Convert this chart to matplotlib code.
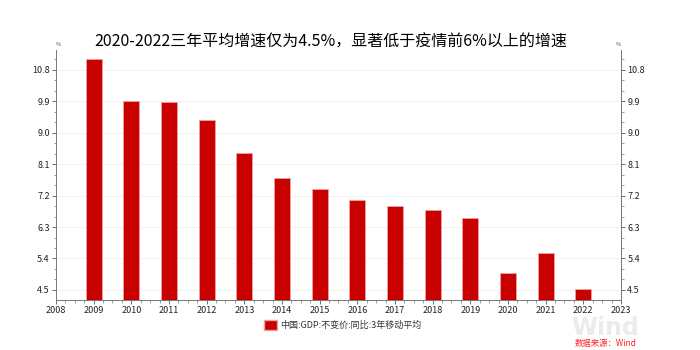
import matplotlib.pyplot as plt
from matplotlib.ticker import MultipleLocator, AutoMinorLocator
from matplotlib.patches import Patch

plt.rcParams['font.family'] = ['Noto Sans CJK SC', 'DejaVu Sans']

# GDP constant-price YoY growth, 3-year moving average (%)
years = [2009, 2010, 2011, 2012, 2013, 2014, 2015, 2016, 2017, 2018,
         2019, 2020, 2021, 2022]
growth = [11.10, 9.90, 9.87, 9.37, 8.43, 7.70, 7.40, 7.07, 6.90, 6.80,
          6.57, 4.97, 5.55, 4.53]
yticks = [4.5, 5.4, 6.3, 7.2, 8.1, 9.0, 9.9, 10.8]
xticks = list(range(2008, 2024))

red = '#c90000'

fig = plt.figure(figsize=(7, 3.5), dpi=100)
ax = fig.add_axes([56 / 700, 50 / 350, 565 / 700, 250 / 350])

ax.bar(years, growth, width=0.42, color=red, edgecolor='#f0a0a0',
       linewidth=0.6, zorder=3)

ax.set_xlim(2008, 2023)
ax.set_ylim(4.21, 11.37)
ax.set_xticks(xticks)
ax.set_xticklabels([str(x) for x in xticks])
ax.set_yticks(yticks)
ax.set_yticklabels([f'{v:.1f}' for v in yticks])
ax.xaxis.set_minor_locator(AutoMinorLocator(4))
ax.yaxis.set_minor_locator(MultipleLocator(0.3))

ax.grid(axis='y', color='#f2f2f2', linewidth=0.8, zorder=0)
ax.tick_params(axis='both', which='major', labelsize=6.5, length=3,
               width=0.6, colors='#555555', labelcolor='#222222', pad=1.5)
ax.tick_params(axis='both', which='minor', length=1.8, width=0.5,
               colors='#777777')
ax.tick_params(axis='y', right=True, labelright=True, which='both')

ax.spines['top'].set_visible(False)
for s in ['left', 'right', 'bottom']:
    ax.spines[s].set_color('#777777')
    ax.spines[s].set_linewidth(0.7)

# "%" unit markers at top of both axes
ax.text(0.0, 1.01, '%', transform=ax.transAxes, fontsize=4, ha='left',
        va='bottom', color='#444444')
ax.text(1.0, 1.01, '%', transform=ax.transAxes, fontsize=4, ha='right',
        va='bottom', color='#444444')

fig.text(0.473, 0.88, '2020-2022三年平均增速仅为4.5%，显著低于疫情前6%以上的增速',
         ha='center', va='center', fontsize=11.5, color='black')

handles = [Patch(facecolor=red, edgecolor='#f0a0a0')]
fig.legend(handles, ['中国:GDP:不变价:同比:3年移动平均'], loc='center',
           bbox_to_anchor=(0.49, 0.072), frameon=False, fontsize=6.5,
           handlelength=1.4, handleheight=1.4, handletextpad=0.4,
           labelcolor='#333333')

fig.text(0.865, 0.064, 'Wind', ha='center', va='center', fontsize=17,
         color='#ebebeb', fontweight='bold', family='DejaVu Sans', zorder=0)
fig.text(0.865, 0.018, '数据来源：Wind', ha='center', va='center',
         fontsize=6, color='#ff2020', style='italic')

fig.savefig('out.png', dpi=100)
